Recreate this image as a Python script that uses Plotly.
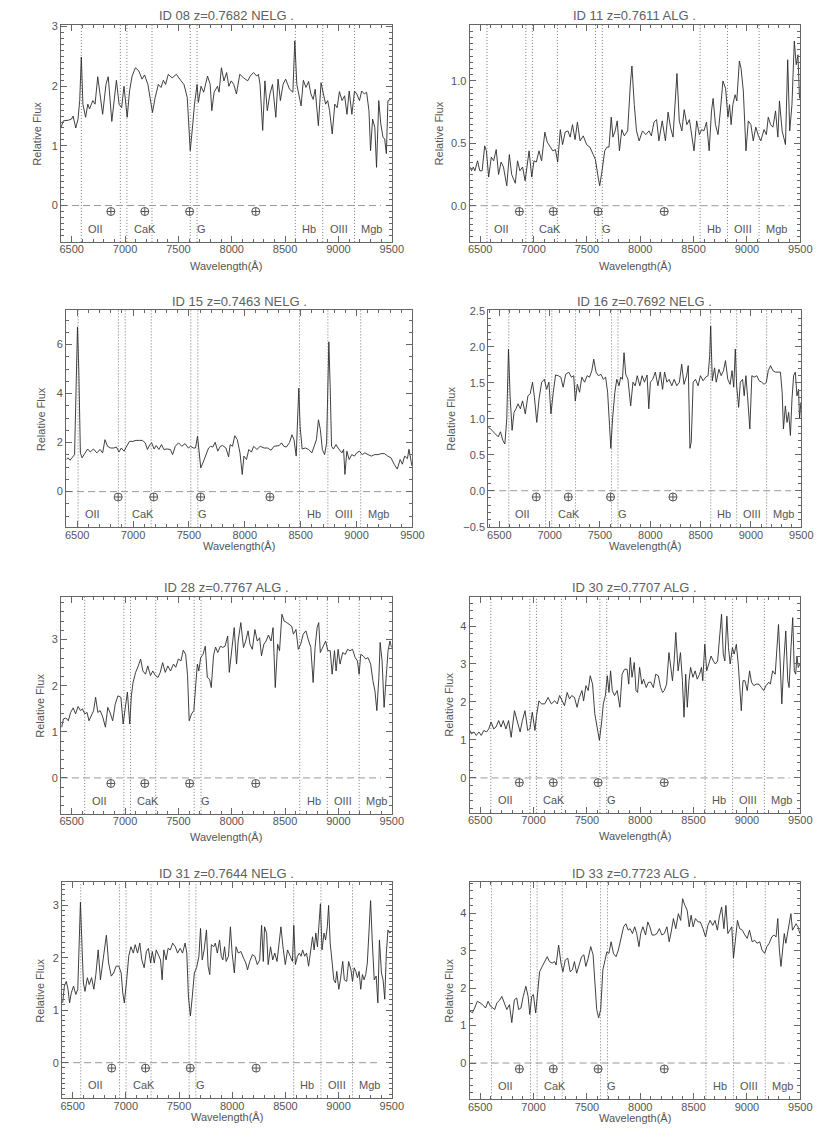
import plotly.graph_objects as go

# ---------------- data ----------------
TITLES = ["ID 08 z=0.7682 NELG .", "ID 11 z=0.7611 ALG .",
          "ID 15 z=0.7463 NELG .", "ID 16 z=0.7692 NELG .",
          "ID 28 z=0.7767 ALG .", "ID 30 z=0.7707 ALG .",
          "ID 31 z=0.7644 NELG .", "ID 33 z=0.7723 ALG ."]
REDSHIFTS = [0.7682, 0.7611, 0.7463, 0.7692, 0.7767, 0.7707, 0.7644, 0.7723]

# rest wavelengths of marked features (OII, CaK, CaH, Hd, G, Hg, Hb, OIII, Mgb)
LINE_REST = [3727.0, 3933.7, 3968.5, 4101.7, 4304.4, 4340.5, 4861.3, 5006.8, 5175.0]
LABEL_NAMES = ["OII", "CaK", "G", "Hb", "OIII", "Mgb"]
LABEL_REST = [3727.0, 3968.5, 4304.4, 4861.3, 5006.8, 5175.0]
TELLURIC = [6867, 7185, 7605, 8225]
X_TICKS = [6500, 7000, 7500, 8000, 8500, 9000, 9500]

wl_08 = [6400,6421,6467,6498,6513,6538,6559,6575,6590,6605,
         6630,6651,6667,6698,6719,6744,6765,6790,6821,6842,
         6876,6897,6919,6944,6968,6990,7020,7042,7066,7097,
         7128,7159,7183,7214,7257,7282,7312,7337,7359,7380,
         7405,7441,7481,7521,7552,7583,7611,7635,7651,7675,
         7687,7712,7737,7773,7798,7813,7835,7866,7881,7903,
         7927,7952,7973,7995,8019,8044,8075,8112,8149,8173,
         8204,8235,8250,8265,8290,8311,8333,8358,8382,8413,
         8434,8456,8481,8505,8542,8573,8591,8610,8634,8650,
         8671,8696,8720,8742,8763,8782,8812,8837,8859,8880,
         8899,8917,8942,8966,8988,9009,9034,9058,9080,9101,
         9126,9151,9172,9197,9218,9243,9264,9286,9301,9320,
         9341,9357,9378,9397,9418,9433,9449,9464,9489]
flux_08 = [1.31,1.42,1.43,1.45,1.5,1.3,1.45,1.76,2.49,1.7,
           1.48,1.7,1.62,1.76,1.7,2.16,1.87,1.53,2.03,2.16,
           1.41,1.81,2.1,1.7,1.64,2.0,1.48,1.92,2.17,2.31,
           2.26,2.12,2.19,2.03,1.56,1.81,2.03,1.98,2.1,2.03,
           2.2,2.14,2.2,2.1,2.03,1.81,0.92,1.37,1.7,2.03,
           1.73,2.0,1.9,2.17,2.03,1.59,1.9,2.0,1.9,2.31,
           2.09,2.23,2.0,2.09,2.03,1.87,2.2,2.14,2.09,2.17,
           2.23,2.17,2.2,2.03,1.26,2.09,1.59,1.87,2.03,1.48,
           2.12,1.76,2.03,2.12,1.95,1.9,2.76,2.03,1.81,1.67,
           2.1,1.98,2.08,1.87,1.78,1.95,1.34,2.06,1.87,1.7,
           1.76,1.59,1.2,1.7,1.64,1.91,1.76,1.84,1.53,1.92,
           1.53,1.92,1.87,1.76,1.92,1.87,1.9,1.59,0.92,1.45,
           1.31,0.64,1.76,1.37,1.14,1.12,0.87,1.76,1.78]

wl_11 = [6404,6419,6435,6450,6475,6496,6518,6542,6558,6579,
         6604,6626,6650,6672,6696,6718,6749,6773,6795,6829,
         6850,6872,6897,6921,6958,6983,7004,7026,7051,7075,
         7106,7128,7158,7180,7205,7226,7251,7272,7297,7322,
         7343,7365,7389,7411,7436,7466,7497,7528,7559,7580,
         7605,7620,7642,7667,7688,7707,7728,7744,7765,7784,
         7805,7827,7851,7882,7907,7922,7944,7965,7990,8021,
         8052,8082,8104,8129,8153,8175,8206,8236,8261,8283,
         8307,8329,8344,8366,8390,8412,8437,8461,8483,8504,
         8529,8554,8575,8597,8621,8646,8668,8683,8705,8729,
         8751,8775,8800,8822,8837,8852,8868,8889,8905,8929,
         8945,8966,8991,9013,9037,9059,9083,9108,9130,9160,
         9182,9200,9222,9244,9268,9290,9305,9330,9361,9382,
         9401,9422,9444,9462,9478,9493]
flux_11 = [0.31,0.28,0.31,0.28,0.36,0.28,0.28,0.48,0.44,0.23,
           0.39,0.36,0.45,0.25,0.35,0.31,0.16,0.41,0.25,0.18,
           0.36,0.28,0.31,0.2,0.44,0.23,0.36,0.35,0.44,0.36,
           0.59,0.51,0.47,0.44,0.45,0.35,0.61,0.49,0.59,0.6,
           0.55,0.65,0.53,0.67,0.52,0.56,0.49,0.47,0.41,0.37,
           0.23,0.16,0.28,0.44,0.47,0.47,0.71,0.55,0.6,0.68,
           0.44,0.61,0.56,0.6,0.97,1.12,0.81,0.6,0.52,0.6,
           0.57,0.6,0.56,0.67,0.69,0.52,0.68,0.52,0.75,0.63,
           0.55,0.81,1.06,0.68,0.6,0.77,0.65,0.69,0.56,0.44,
           0.68,0.57,0.61,0.6,0.67,0.44,0.76,0.86,0.65,0.57,
           0.76,1.0,0.94,0.71,0.81,0.65,0.81,0.89,0.84,1.16,
           1.1,0.92,0.44,0.68,0.65,0.52,0.63,0.56,0.52,0.61,
           0.57,0.71,0.65,0.63,0.76,0.55,0.84,0.6,0.49,1.17,
           0.6,0.81,1.32,1.13,1.21,0.86]

wl_15 = [6404,6418,6436,6456,6477,6491,6503,6515,6529,6544,
         6565,6594,6617,6646,6676,6705,6728,6749,6772,6799,
         6828,6851,6875,6895,6919,6939,6968,6997,7027,7056,
         7085,7109,7129,7150,7167,7188,7208,7231,7255,7275,
         7305,7334,7354,7378,7407,7436,7465,7495,7515,7539,
         7559,7577,7588,7606,7626,7656,7676,7694,7714,7735,
         7758,7781,7802,7831,7855,7869,7890,7910,7933,7957,
         7977,7992,8015,8036,8059,8080,8109,8138,8173,8203,
         8235,8261,8284,8308,8328,8349,8372,8401,8422,8440,
         8460,8475,8483,8495,8513,8542,8571,8600,8624,8641,
         8659,8676,8694,8714,8732,8744,8752,8764,8776,8793,
         8817,8834,8855,8869,8884,8896,8913,8934,8957,8981,
         9001,9025,9051,9074,9103,9133,9162,9191,9220,9250,
         9279,9308,9337,9364,9390,9410,9430,9455,9469,9495]
flux_15 = [1.31,1.38,1.28,1.38,1.51,4.28,6.72,4.96,1.58,1.38,
           1.51,1.74,1.62,1.74,1.58,1.72,1.58,2.12,1.85,1.78,
           1.78,1.82,1.62,1.78,1.65,1.82,2.05,2.05,2.09,2.09,
           2.09,1.99,1.72,1.92,1.99,1.74,1.88,1.72,1.92,1.72,
           1.74,1.72,1.51,1.85,1.99,1.85,1.96,1.78,1.85,1.78,
           1.78,2.26,1.85,0.97,1.18,1.51,1.78,1.85,1.82,2.01,
           1.65,1.85,1.88,1.78,1.42,1.92,1.85,2.28,2.12,1.58,
           0.7,1.45,1.31,1.72,1.61,1.85,1.72,1.85,1.78,1.78,
           1.69,1.85,1.85,1.88,1.99,1.85,1.82,2.01,2.32,2.12,
           1.45,2.93,4.22,2.66,1.74,1.78,1.72,1.58,1.85,2.12,
           2.93,2.53,1.72,1.51,1.99,5.64,6.11,4.28,1.85,1.74,
           1.92,1.78,1.65,1.58,1.72,0.7,1.65,1.31,1.51,1.45,
           1.58,1.65,1.51,1.58,1.51,1.45,1.51,1.51,1.55,1.55,
           1.45,1.38,1.11,0.92,1.31,1.12,1.45,1.35,1.73,1.05]

wl_16 = [6388,6414,6440,6463,6489,6512,6535,6555,6574,6591,
         6607,6627,6646,6666,6686,6709,6731,6758,6784,6807,
         6830,6849,6872,6895,6921,6947,6970,6993,7013,7036,
         7059,7085,7111,7134,7160,7190,7216,7239,7255,7275,
         7297,7320,7347,7373,7396,7419,7438,7461,7484,7510,
         7533,7556,7576,7595,7608,7625,7648,7667,7690,7706,
         7723,7739,7756,7778,7805,7828,7850,7870,7896,7919,
         7942,7968,7985,8001,8024,8050,8076,8099,8122,8142,
         8165,8187,8214,8237,8263,8289,8312,8335,8361,8377,
         8394,8407,8426,8449,8475,8498,8524,8551,8574,8590,
         8600,8616,8639,8655,8682,8704,8727,8747,8770,8793,
         8812,8829,8845,8858,8878,8894,8917,8933,8950,8966,
         8989,9009,9032,9058,9081,9107,9130,9153,9172,9195,
         9218,9244,9270,9293,9310,9323,9342,9359,9375,9392,
         9408,9424,9441,9457,9473,9483,9496]
flux_16 = [0.88,0.86,0.82,0.79,0.75,0.82,0.7,0.65,1.0,1.97,
           1.32,0.84,1.09,1.14,1.21,1.14,1.25,1.07,1.32,1.35,
           1.51,1.3,0.95,1.28,1.51,1.55,1.41,1.51,1.07,1.37,
           1.61,1.6,1.58,1.44,1.62,1.65,1.58,1.6,1.25,1.48,
           1.37,1.58,1.51,1.6,1.58,1.67,1.83,1.65,1.6,1.62,
           1.55,1.58,1.37,0.91,0.59,1.0,1.37,1.55,1.46,1.58,
           1.55,1.92,1.62,1.55,1.18,1.51,1.46,1.6,1.46,1.6,
           1.51,1.61,1.14,1.51,1.55,1.65,1.46,1.65,1.41,1.65,
           1.51,1.55,1.46,1.55,1.46,1.51,1.76,1.48,1.6,1.74,
           0.59,0.68,1.51,1.55,1.46,1.6,1.53,1.58,1.6,1.88,
           2.29,1.53,1.71,1.51,1.69,1.6,1.67,1.81,1.55,1.48,
           1.67,1.44,1.97,1.46,1.16,1.51,1.55,1.32,1.6,1.32,
           0.86,1.6,1.58,1.6,1.53,1.51,1.48,1.51,1.67,1.74,
           1.67,1.65,1.65,1.65,1.37,0.86,1.18,0.95,1.09,0.77,
           1.28,1.6,1.65,1.32,1.41,1.0,1.23]

wl_28 = [6406,6422,6446,6468,6490,6514,6536,6560,6582,6600,
         6622,6644,6662,6684,6705,6724,6745,6767,6791,6816,
         6838,6859,6884,6908,6933,6961,6982,7001,7022,7044,
         7059,7075,7099,7124,7146,7167,7192,7213,7238,7260,
         7284,7309,7330,7352,7377,7401,7426,7454,7475,7500,
         7524,7546,7568,7586,7601,7623,7645,7663,7678,7691,
         7709,7731,7752,7771,7792,7808,7829,7848,7869,7894,
         7916,7937,7962,7977,7999,8023,8045,8060,8085,8110,
         8131,8153,8171,8193,8217,8239,8261,8279,8301,8322,
         8344,8368,8387,8408,8430,8448,8470,8492,8516,8541,
         8562,8578,8602,8624,8646,8670,8695,8716,8741,8763,
         8781,8800,8815,8830,8855,8880,8901,8923,8941,8963,
         8978,8997,9015,9040,9064,9086,9108,9132,9157,9178,
         9194,9209,9231,9255,9277,9302,9323,9342,9360,9379,
         9391,9409,9428,9446,9465,9483,9498]
flux_28 = [1.1,1.28,1.3,1.24,1.42,1.52,1.39,1.55,1.46,1.5,
           1.39,1.42,1.24,1.35,1.46,1.75,1.42,1.46,1.32,1.1,
           1.53,1.42,1.24,1.6,1.78,1.75,1.17,1.5,1.86,1.17,
           1.78,2.07,2.29,2.43,2.58,2.32,2.25,2.43,2.22,2.32,
           2.22,2.18,2.29,2.5,2.29,2.43,2.32,2.47,2.4,2.58,
           2.54,2.77,2.68,2.22,1.24,1.39,1.46,2.04,2.47,2.32,
           2.61,2.68,2.86,2.18,2.14,1.96,2.65,2.84,2.72,2.86,
           2.83,2.86,3.08,2.29,2.83,3.26,2.47,2.97,3.37,2.83,
           2.97,3.19,2.9,2.79,3.22,2.97,3.04,2.65,2.9,2.97,
           3.1,2.97,3.26,1.96,2.9,2.76,3.55,3.4,3.37,3.33,
           3.29,3.12,3.22,2.79,2.9,3.12,3.19,3.01,2.83,2.07,
           2.83,3.26,3.37,2.72,2.83,2.97,2.76,2.76,2.25,2.76,
           2.32,2.79,2.47,2.72,2.68,2.79,2.76,2.79,2.61,2.54,
           2.25,2.68,2.65,2.58,2.61,2.47,2.11,1.89,1.46,2.18,
           2.94,2.54,1.53,2.18,2.76,2.97,2.83]

wl_30 = [6395,6417,6442,6463,6488,6510,6534,6559,6580,6602,
         6627,6648,6673,6695,6716,6741,6766,6790,6821,6843,
         6874,6895,6920,6945,6966,6988,7013,7028,7050,7074,
         7105,7136,7167,7198,7222,7244,7266,7290,7315,7337,
         7358,7383,7408,7429,7454,7469,7491,7512,7531,7553,
         7574,7599,7617,7636,7654,7673,7691,7707,7722,7738,
         7759,7784,7809,7830,7852,7877,7892,7907,7923,7944,
         7960,7975,7994,8015,8031,8056,8077,8099,8123,8145,
         8170,8191,8210,8225,8247,8269,8287,8302,8318,8333,
         8355,8377,8395,8410,8426,8441,8457,8472,8494,8515,
         8534,8556,8574,8586,8605,8623,8642,8664,8685,8704,
         8725,8747,8762,8778,8793,8812,8827,8843,8864,8880,
         8901,8920,8935,8947,8963,8981,9003,9025,9043,9065,
         9086,9111,9136,9157,9179,9204,9219,9241,9265,9281,
         9296,9312,9327,9346,9364,9383,9395,9413,9429,9444,
         9457,9469,9481,9497]
flux_30 = [1.29,1.16,1.21,1.12,1.21,1.12,1.25,1.21,1.29,1.47,
           1.29,1.34,1.51,1.34,1.51,1.29,1.51,1.07,1.77,1.51,
           1.21,1.51,1.77,1.25,1.29,1.73,1.25,1.64,2.03,1.95,
           1.95,2.12,1.95,2.03,1.95,2.17,2.03,1.9,2.25,2.08,
           2.17,2.12,1.86,2.12,2.3,2.03,2.43,2.3,2.69,2.47,
           1.69,1.21,0.99,1.42,1.95,2.17,2.69,2.25,2.82,2.3,
           2.17,2.3,1.86,2.73,2.86,2.86,2.47,3.17,2.65,3.04,
           2.3,2.25,2.91,2.47,2.6,2.38,2.52,2.52,2.38,2.73,
           2.69,2.38,2.25,2.3,2.47,3.3,2.82,2.56,3.08,3.83,
           2.82,3.3,2.56,1.6,2.73,1.86,2.56,2.91,2.65,2.82,
           2.6,2.73,2.91,2.56,3.52,2.82,3.0,3.21,3.08,3.0,
           3.08,3.91,4.31,3.26,3.08,4.26,3.43,3.0,3.43,3.26,
           3.52,2.95,2.3,1.77,2.56,2.56,2.3,2.82,2.52,2.43,
           2.47,2.47,2.38,2.3,2.43,2.52,2.47,2.82,2.73,3.34,
           4.04,3.0,1.95,3.08,3.87,2.56,2.38,3.43,4.22,2.82,
           2.73,3.21,2.91,3.0]

wl_31 = [6406,6422,6440,6456,6471,6487,6508,6530,6548,6564,
         6573,6588,6601,6616,6638,6656,6678,6699,6718,6740,
         6761,6786,6817,6838,6863,6885,6909,6934,6956,6971,
         6986,7008,7027,7048,7070,7088,7110,7131,7150,7172,
         7193,7212,7233,7249,7267,7286,7304,7326,7341,7357,
         7378,7397,7418,7440,7465,7486,7511,7533,7557,7573,
         7588,7607,7625,7644,7665,7687,7702,7718,7736,7758,
         7773,7789,7804,7826,7841,7860,7881,7897,7912,7928,
         7943,7965,7983,7999,8020,8036,8057,8082,8107,8128,
         8144,8165,8190,8212,8236,8258,8276,8292,8304,8323,
         8338,8360,8381,8400,8421,8437,8458,8477,8499,8520,
         8545,8566,8579,8594,8613,8631,8647,8662,8681,8699,
         8718,8736,8755,8770,8786,8801,8816,8829,8844,8863,
         8878,8894,8906,8921,8940,8955,8971,8983,9002,9017,
         9039,9054,9076,9094,9116,9131,9147,9162,9177,9193,
         9208,9224,9239,9255,9270,9286,9301,9316,9335,9353,
         9369,9384,9403,9418,9434,9449,9464,9480,9495]
flux_31 = [1.14,1.46,1.55,1.4,1.14,1.33,1.46,1.3,1.4,2.34,
           3.06,2.21,1.52,1.36,1.62,1.49,1.62,1.4,1.68,2.15,
           1.58,1.96,2.43,1.9,1.65,1.71,1.84,1.84,1.71,1.33,
           1.14,1.58,2.03,2.21,2.09,2.25,2.09,2.28,1.96,1.81,
           2.12,2.18,1.9,2.12,1.9,2.15,2.06,1.96,1.58,2.15,
           1.96,2.18,2.15,2.28,2.21,2.09,2.18,2.09,2.28,2.09,
           1.27,0.89,1.27,1.71,1.81,2.03,2.56,1.96,2.15,2.53,
           1.84,1.68,2.25,2.21,2.28,2.09,2.34,2.03,1.96,2.21,
           1.93,2.03,2.59,2.09,1.71,2.21,2.09,2.12,1.99,1.9,
           1.77,1.93,2.06,2.03,1.87,1.96,2.62,1.93,2.59,2.47,
           1.87,2.21,1.96,2.09,1.93,2.21,2.59,2.21,1.87,2.15,
           2.03,1.93,2.62,1.87,2.03,2.09,2.03,2.15,2.03,2.09,
           1.84,2.09,2.4,2.15,2.47,2.21,2.56,3.03,2.15,2.47,
           2.34,2.59,3.0,2.28,1.9,1.58,1.52,1.74,1.4,1.58,
           1.93,1.58,1.55,1.93,1.77,1.55,1.81,1.74,1.62,1.74,
           1.4,1.68,1.58,1.68,1.9,2.5,3.09,2.34,1.58,1.65,
           1.14,2.34,1.71,1.58,1.21,2.09,2.53,2.47,2.5]

wl_33 = [6405,6427,6448,6473,6497,6522,6550,6574,6596,6614,
         6636,6657,6682,6703,6728,6749,6774,6796,6820,6842,
         6860,6882,6903,6928,6949,6965,6983,6998,7020,7035,
         7057,7081,7106,7128,7149,7174,7198,7211,7235,7257,
         7275,7297,7321,7343,7364,7383,7404,7429,7450,7472,
         7490,7512,7536,7558,7573,7592,7610,7629,7650,7666,
         7687,7706,7727,7749,7773,7795,7819,7844,7865,7887,
         7905,7927,7948,7967,7988,8004,8025,8050,8071,8090,
         8111,8133,8157,8179,8203,8225,8250,8271,8290,8311,
         8333,8357,8379,8397,8419,8440,8459,8477,8496,8517,
         8542,8563,8588,8612,8634,8655,8680,8701,8723,8741,
         8763,8784,8803,8821,8840,8858,8874,8889,8911,8932,
         8957,8981,9003,9024,9049,9073,9095,9120,9141,9166,
         9187,9209,9233,9255,9273,9289,9304,9319,9338,9350,
         9365,9387,9412,9427,9442,9461,9479,9495]
flux_33 = [1.39,1.34,1.47,1.65,1.61,1.56,1.47,1.65,1.52,1.47,
           1.43,1.61,1.68,1.78,1.61,1.43,1.56,1.08,1.69,1.74,
           1.43,1.47,1.78,2.05,1.78,1.3,1.78,1.83,1.34,1.78,
           2.44,2.58,2.71,2.84,2.71,2.67,2.71,2.62,3.15,2.67,
           2.44,2.75,2.8,2.44,2.49,2.71,2.4,2.62,2.84,2.89,
           2.58,2.8,3.11,2.89,2.22,1.43,1.21,1.43,2.49,2.71,
           2.97,2.93,3.24,2.93,2.84,3.02,3.33,3.64,3.72,3.55,
           3.59,3.46,3.64,3.46,3.11,3.46,3.64,3.42,3.77,3.64,
           3.42,3.42,3.46,3.59,3.42,3.46,3.64,3.24,3.5,3.86,
           3.59,3.99,3.81,4.39,4.21,4.08,3.64,3.95,3.64,3.86,
           3.77,3.77,3.59,3.37,3.68,3.81,3.68,3.81,3.55,3.9,
           4.17,3.59,4.21,3.46,3.55,3.64,2.8,3.28,3.81,3.59,
           3.55,3.42,3.33,3.55,3.24,3.28,3.2,3.24,3.02,2.93,
           3.11,3.2,3.37,3.42,3.37,3.86,3.02,2.58,3.11,3.46,
           3.2,3.55,3.99,3.55,3.64,3.72,3.64,3.46]

WAVELENGTHS = [wl_08, wl_11, wl_15, wl_16, wl_28, wl_30, wl_31, wl_33]
FLUXES = [flux_08, flux_11, flux_15, flux_16, flux_28, flux_30, flux_31, flux_33]

Y_RANGES = [(-0.61, 3.03), (-0.29, 1.45), (-1.46, 7.40), (-0.51, 2.51),
            (-0.78, 3.93), (-0.92, 4.77), (-0.68, 3.44), (-0.97, 4.83)]
Y_DTICK = [1, 0.5, 2, 0.5, 1, 1, 1, 1]
Y_MINOR = [0.1, 0.05, 0.5, 0.1, 0.2, 0.2, 0.1, 0.2]
Y_FMT = ["d", ".1f", "d", ".1f", "d", "d", "d", "d"]
X_START = [6400, 6400, 6400, 6390, 6400, 6400, 6400, 6400]
X_END = 9500
ZERO_END = 9400

# ---------------- layout (pixels) ----------------
W, H = 830, 1143
BOX = [(61, 397, 20, 239), (476, 812, 20, 239),
       (66, 418, 308, 527), (495, 813, 308, 527),
       (61, 397, 597, 816), (476, 812, 597, 815),
       (62, 397, 885, 1103), (476, 812, 885, 1104)]
YLAB_X = [37, 445, 40, 457, 40, 455, 40, 455]
XLAB_OFF = [24, 24, 19, 19, 23, 23, 19, 19]

FONT = "Liberation Sans"
TXT = "#555555"
AX = "#666666"


def px(x):
    return x / W


def py(y):
    return 1 - y / H


fig = go.Figure()
annotations = []
shapes = []
layout = {}

for i in range(8):
    n = i + 1
    xa = "x" if n == 1 else f"x{n}"
    ya = "y" if n == 1 else f"y{n}"
    z1 = 1 + REDSHIFTS[i]
    y0, y1 = Y_RANGES[i]
    l, r, t, b = BOX[i]

    fig.add_trace(go.Scatter(x=WAVELENGTHS[i], y=FLUXES[i], mode="lines",
                             line=dict(color="#2b2b2b", width=0.9),
                             xaxis=xa, yaxis=ya, showlegend=False,
                             hoverinfo="skip"))

    # telluric markers
    ymark = y0 + 0.14 * (y1 - y0)
    fig.add_trace(go.Scatter(x=TELLURIC, y=[ymark] * len(TELLURIC), mode="markers",
                             marker=dict(symbol="circle-cross-open", size=8,
                                         color="#555555", line=dict(width=1, color="#555555")),
                             xaxis=xa, yaxis=ya, showlegend=False, hoverinfo="skip"))

    # vertical dotted feature lines
    for lam in LINE_REST:
        shapes.append(dict(type="line", xref=xa, yref=f"{ya} domain",
                           x0=lam * z1, x1=lam * z1, y0=0, y1=1,
                           line=dict(color="#7a7a7a", width=1, dash="1px,2px"), layer="below"))
    # zero line
    shapes.append(dict(type="line", xref=xa, yref=ya, x0=X_START[i], x1=ZERO_END,
                       y0=0, y1=0, line=dict(color="#999999", width=1, dash="7px,4px"),
                       layer="below"))

    # feature labels
    for name, lam in zip(LABEL_NAMES, LABEL_REST):
        annotations.append(dict(x=lam * z1 + 45, y=0.06, xref=xa, yref=f"{ya} domain",
                                text=name, showarrow=False, xanchor="left",
                                yanchor="middle",
                                font=dict(family=FONT, size=11, color=TXT)))

    # title
    annotations.append(dict(x=px((l + r) / 2), y=py(t - 9), xref="paper", yref="paper",
                            text=TITLES[i], showarrow=False, xanchor="center",
                            yanchor="middle", font=dict(family=FONT, size=13, color="#606060")))
    # x label
    annotations.append(dict(x=px((l + r) / 2), y=py(b + XLAB_OFF[i]), xref="paper",
                            yref="paper", text="Wavelength(Å)", showarrow=False,
                            xanchor="center", yanchor="middle",
                            font=dict(family=FONT, size=11, color=TXT)))
    # y label
    annotations.append(dict(x=px(YLAB_X[i]), y=py((t + b) / 2), xref="paper",
                            yref="paper", text="Relative Flux", showarrow=False,
                            textangle=-90, xanchor="center", yanchor="middle",
                            font=dict(family=FONT, size=11, color=TXT)))

    xkey = "xaxis" if n == 1 else f"xaxis{n}"
    ykey = "yaxis" if n == 1 else f"yaxis{n}"
    layout[xkey] = dict(domain=[px(l), px(r)], range=[X_START[i], X_END], anchor=ya,
                        showline=True, linecolor=AX, linewidth=1, mirror="allticks",
                        ticks="inside", ticklen=6, tickcolor=AX, tickwidth=1,
                        tickvals=X_TICKS, tickfont=dict(family=FONT, size=11, color=TXT),
                        ticklabelstandoff=-3,
                        showgrid=False, zeroline=False,
                        minor=dict(dtick=100, tick0=6400, ticklen=3, ticks="inside",
                                   tickcolor=AX, showgrid=False))
    layout[ykey] = dict(domain=[py(b), py(t)], range=[y0, y1], anchor=xa,
                        showline=True, linecolor=AX, linewidth=1, mirror="allticks",
                        ticks="inside", ticklen=6, tickcolor=AX, tickwidth=1,
                        dtick=Y_DTICK[i], tick0=0, tickformat=Y_FMT[i],
                        tickfont=dict(family=FONT, size=11, color=TXT),
                        showgrid=False, zeroline=False,
                        minor=dict(dtick=Y_MINOR[i], tick0=0, ticklen=3, ticks="inside",
                                   tickcolor=AX, showgrid=False))

fig.update_layout(width=W, height=H, margin=dict(l=0, r=0, t=0, b=0),
                  paper_bgcolor="white", plot_bgcolor="white",
                  annotations=annotations, shapes=shapes, showlegend=False,
                  font=dict(family=FONT, color=TXT), **layout)

fig.write_html("out.html", config={"displayModeBar": False},
               post_script="document.body.style.margin='0';document.body.style.padding='0';")
